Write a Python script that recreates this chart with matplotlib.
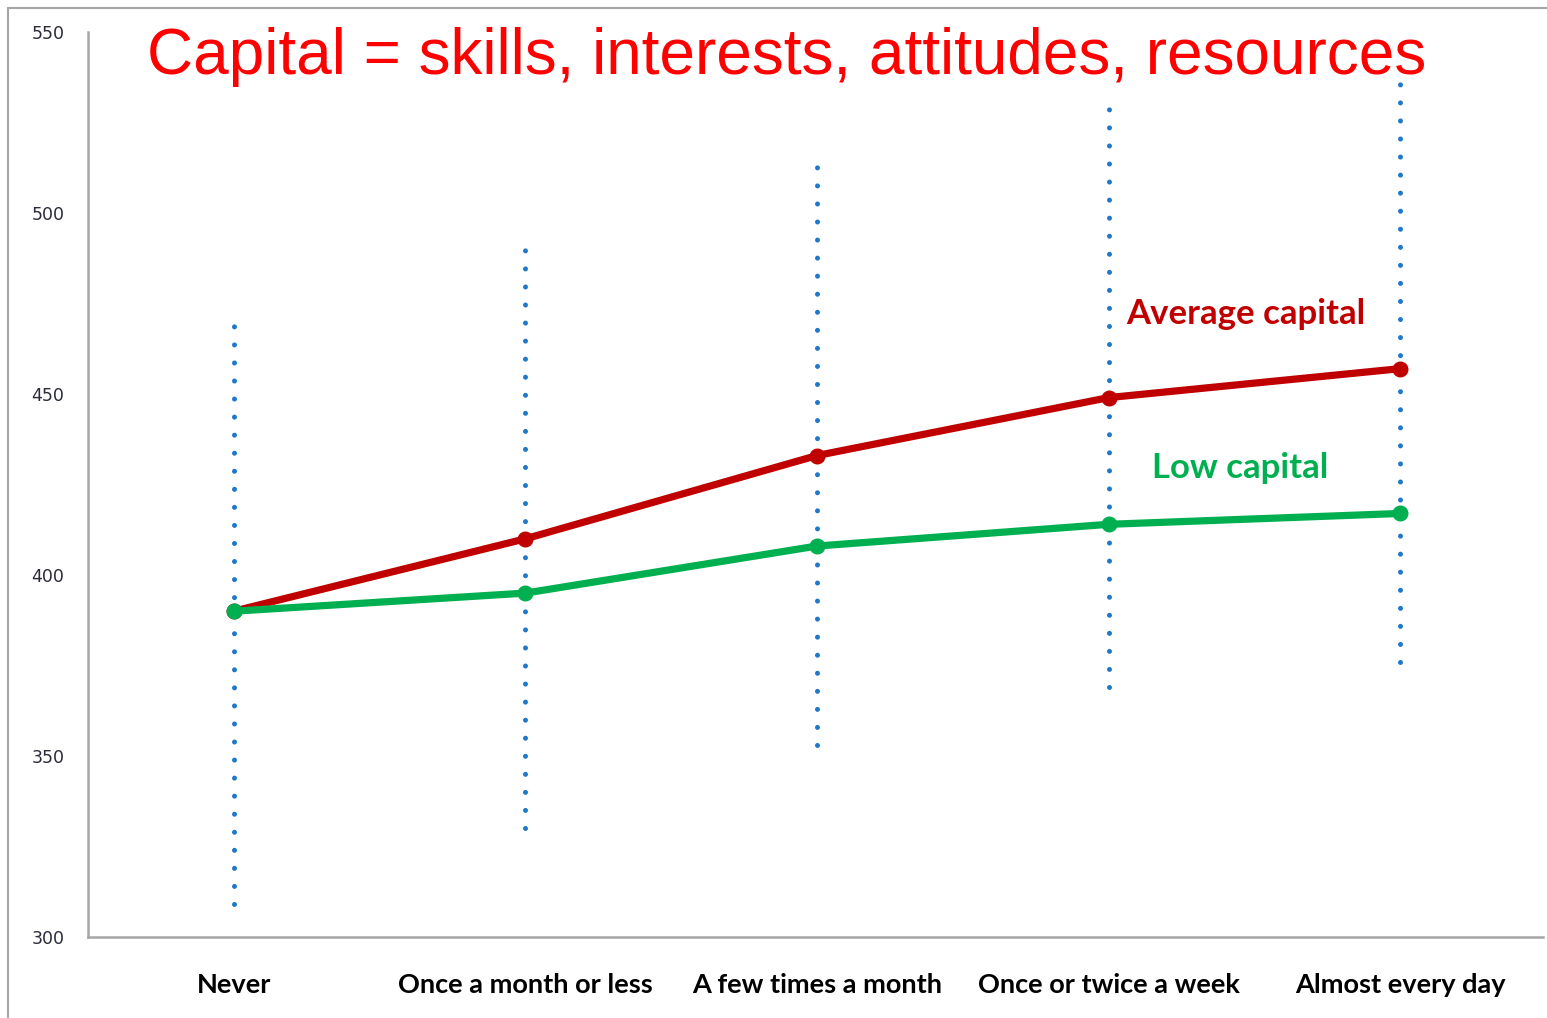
import matplotlib.pyplot as plt
from matplotlib.patches import Rectangle

categories = ["Never", "Once a month or less", "A few times a month",
              "Once or twice a week", "Almost every day"]
average_capital = [390, 410, 433, 449, 457]
low_capital = [390, 395, 408, 414, 417]
range_low = [309, 330, 353, 369, 376]
range_high = [470, 491, 514, 530, 539]
y_ticks = [300, 350, 400, 450, 500, 550]

fig = plt.figure(figsize=(15.47, 10.18), dpi=100)
ax = fig.add_axes([88 / 1547, 1 - 937 / 1018, (1543 - 88) / 1547, (937 - 32) / 1018])

# outer chart border
fig.patches.append(Rectangle((8 / 1547, -0.1), 1.2, 1 - 8 / 1018 + 0.1,
                             transform=fig.transFigure, fill=False,
                             edgecolor="#a6a6a6", linewidth=1.5))

x = list(range(len(categories)))

# dotted ranges
for i in x:
    ax.plot([i, i], [range_low[i], range_high[i]], color="#1f78c8",
            linewidth=3.6, linestyle=(0, (0.01, 3.6)), dash_capstyle="round",
            zorder=1)

ax.plot(x, average_capital, color="#c00000", linewidth=5.2, marker="o",
        markersize=10.5, zorder=3)
ax.plot(x, low_capital, color="#00b050", linewidth=5.2, marker="o",
        markersize=10.5, zorder=4)

ax.set_xlim(-0.5, 4.49)
ax.set_ylim(300, 550)
ax.set_yticks(y_ticks)
ax.set_yticklabels([str(t) for t in y_ticks], fontsize=12.5, color="#2b2b3b",
                   family="DejaVu Sans")
ax.set_xticks(x)
ax.set_xticklabels(categories, fontsize=19.5, fontweight="bold", family="Lato")
ax.tick_params(axis="y", length=0, pad=17)
ax.tick_params(axis="x", length=0, pad=26)

for side in ["top", "right"]:
    ax.spines[side].set_visible(False)
for side in ["left", "bottom"]:
    ax.spines[side].set_color("#a6a6a6")
    ax.spines[side].set_linewidth(1.8)

fig.text(787 / 1547, 1 - 27 / 1018, "Capital = skills, interests, attitudes, resources",
         fontsize=46, color="#ff0000", family="Liberation Sans",
         ha="center", va="top")
ax.text(3.47, 472, "Average capital", fontsize=25, fontweight="bold",
        color="#c00000", family="Lato", ha="center", va="center")
ax.text(3.45, 429.5, "Low capital", fontsize=25, fontweight="bold",
        color="#00b050", family="Lato", ha="center", va="center")

fig.savefig("out.png", dpi=100)
